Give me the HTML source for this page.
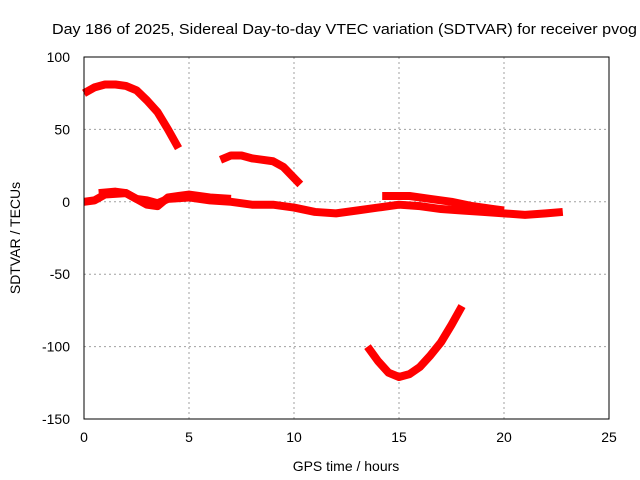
<!DOCTYPE html>
<html><head><meta charset="utf-8"><style>
body{margin:0;background:#fff}
svg{display:block;font-family:"Liberation Sans",sans-serif;font-size:14px}
</style></head><body>
<svg id="c" width="640" height="480">
<text x="52" y="34" font-size="15" textLength="585" lengthAdjust="spacingAndGlyphs">Day 186 of 2025, Sidereal Day-to-day VTEC variation (SDTVAR) for receiver pvog</text>
<g id="grid"></g><g id="ticks"></g><g id="series"></g>
<rect x="84" y="57" width="525" height="362" fill="none" stroke="#000" stroke-width="1"/>
<text x="346" y="471" text-anchor="middle">GPS time / hours</text>
<text transform="translate(20,238) rotate(-90)" text-anchor="middle">SDTVAR / TECUs</text>
</svg>
<script>
const xTicks=[0,5,10,15,20,25];
const yTicks=[100,50,0,-50,-100,-150];
const arc1Hours=[0,0.5,1,1.5,2,2.5,3,3.5,4,4.5];
const arc1Values=[75,79,81,81,80,77,70,62,50,37];
const arc2Hours=[6.5,7,7.5,8,9,9.5,10.3];
const arc2Values=[29,32,32,30,28,24,12];
const arc3Hours=[13.5,14,14.5,15,15.5,16,16.5,17,17.5,18];
const arc3Values=[-100,-110,-118,-121,-119,-114,-106,-97,-85,-72];
const arc4Hours=[0,0.5,1,2,2.5,3,3.5,4,5,6,7,8,9,10,11,12,13,14,15,16,17,18,19,20,21,22,22.8];
const arc4Values=[0,1,5,6,2,1,-1,2,3,1,0,-2,-2,-4,-7,-8,-6,-4,-2,-3,-5,-6,-7,-8,-9,-8,-7];
const arc5Hours=[0.7,1.5,2,3,3.5,4,4.5,5,6,7];
const arc5Values=[6,7,6,-2,-3,3,4,5,3,2];
const arc6Hours=[14.2,15.5,16.5,17.5,18.5,19.5,20];
const arc6Values=[4,4,2,0,-3,-5,-6];
const X=h=>84+h*21, Y=v=>57+(100-v)*1.448;
const ns="http://www.w3.org/2000/svg";
function mk(t,a,p){const e=document.createElementNS(ns,t);for(const k in a)e.setAttribute(k,a[k]);p.appendChild(e);return e;}
const g=document.getElementById('grid'),tk=document.getElementById('ticks'),s=document.getElementById('series');
xTicks.forEach(t=>{
 if(t>0&&t<25){const l=mk('line',{x1:X(t),x2:X(t),y1:57,y2:419,stroke:'#a0a0a0','stroke-dasharray':'2,3'},g);
 
 }
 const tx=mk('text',{x:X(t),y:442,'text-anchor':'middle'},tk);tx.textContent=t;
 
 
});
yTicks.forEach(t=>{
 if(t<100&&t>-150){const l=mk('line',{x1:84,x2:609,y1:Y(t),y2:Y(t),stroke:'#a0a0a0','stroke-dasharray':'2,3'},g);
 
 }
 const tx=mk('text',{x:70,y:Y(t)+5,'text-anchor':'end'},tk);tx.textContent=t;
 
 
});
[[arc1Hours,arc1Values],[arc2Hours,arc2Values],[arc3Hours,arc3Values],[arc4Hours,arc4Values],[arc5Hours,arc5Values],[arc6Hours,arc6Values]].forEach((a,i)=>{
 const pts=a[0].map((h,j)=>X(h)+','+Y(a[1][j])).join(' ');
 const p=mk('polyline',{points:pts,fill:'none',stroke:'#ff0000','stroke-width':8,'stroke-linejoin':'round'},s);
 
 
});
</script>
</body></html>
